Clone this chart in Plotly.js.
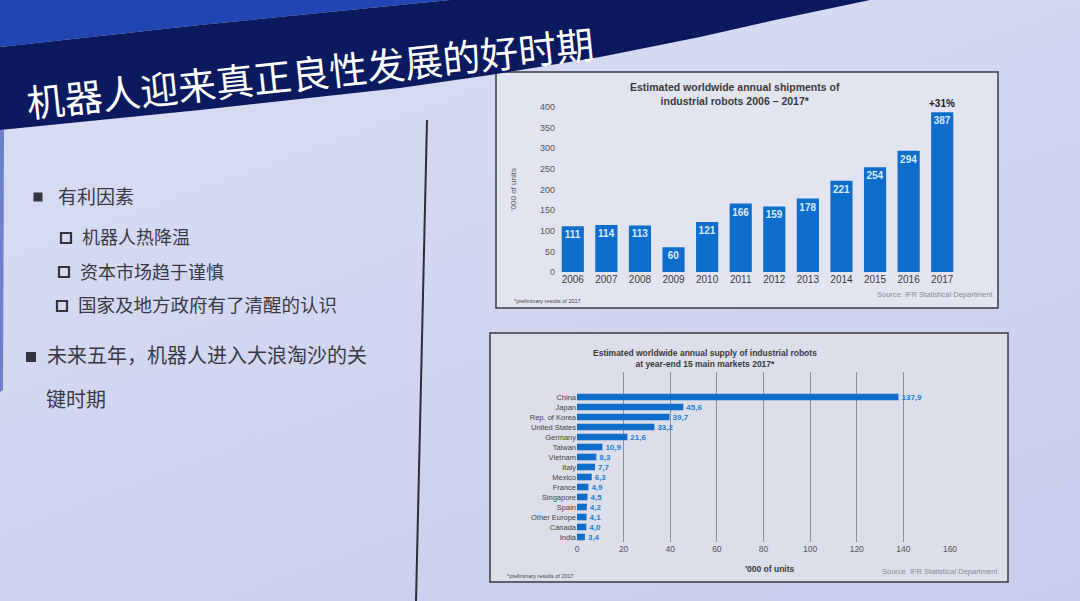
<!DOCTYPE html>
<html>
<head>
<meta charset="utf-8">
<script src="https://cdn.plot.ly/plotly-3.0.1.min.js"></script>
<style>
  html, body { margin: 0; padding: 0; }
  body {
    width: 1080px; height: 601px; overflow: hidden;
    background: linear-gradient(160deg, #dadef3 0%, #d2d6f0 45%, #c7cded 100%);
  }
  #slide { width: 1080px; height: 601px; }
</style>
</head>
<body>
<div id="slide"></div>
<script>
// ── data ────────────────────────────────────────────────
const years = ['2006', '2007', '2008', '2009', '2010', '2011', '2012', '2013', '2014', '2015', '2016', '2017'];
const shipments = [111, 114, 113, 60, 121, 166, 159, 178, 221, 254, 294, 387];
const growthLabel = '+31%';

const markets = ['China', 'Japan', 'Rep. of Korea', 'United States', 'Germany', 'Taiwan', 'Vietnam',
    'Italy', 'Mexico', 'France', 'Singapore', 'Spain', 'Other Europe', 'Canada', 'India'];
const supply = [137.9, 45.6, 39.7, 33.2, 21.6, 10.9, 8.3, 7.7, 6.3, 4.9, 4.5, 4.2, 4.1, 4.0, 3.4];

const slideTitle = '机器人迎来真正良性发展的好时期';
const bullets = ['有利因素', '机器人热降温', '资本市场趋于谨慎', '国家及地方政府有了清醒的认识',
    '未来五年，机器人进入大浪淘沙的关', '键时期'];

// ── helpers (pixel -> paper) ────────────────────────────
const W = 1080, H = 601;
const px = x => x / W;
const py = y => 1 - y / H;
const path = pts => 'M' + pts.map(p => px(p[0]).toFixed(4) + ',' + py(p[1]).toFixed(4)).join(' L') + ' Z';

const ARIAL = 'Liberation Sans, Arial, sans-serif';
const CJK = 'Noto Sans CJK SC, sans-serif';
const BLUE = '#0f6dcc';

// ── traces ──────────────────────────────────────────────
const barShip = {
    type: 'bar',
    x: years,
    y: shipments,
    xaxis: 'x', yaxis: 'y',
    marker: { color: BLUE },
    text: shipments.map(String),
    textposition: 'inside',
    insidetextanchor: 'end',
    textangle: 0,
    constraintext: 'none',
    textfont: { family: ARIAL, size: 10, color: '#d8ecff', weight: 'bold' },
    hoverinfo: 'skip',
};

const barSupply = {
    type: 'bar',
    orientation: 'h',
    x: supply,
    y: markets,
    xaxis: 'x2', yaxis: 'y2',
    marker: { color: BLUE },
    text: supply.map(v => v.toFixed(1).replace('.', ',')),
    textposition: 'outside',
    textangle: 0,
    constraintext: 'none',
    cliponaxis: false,
    textfont: { family: ARIAL, size: 8, color: '#1b7fd6', weight: 'bold' },
    hoverinfo: 'skip',
};

// ── slide decoration ───────────────────────────────────
const shapes = [
    // chart boxes
    { type: 'rect', xref: 'paper', yref: 'paper', layer: 'below',
      x0: px(496), x1: px(998), y0: py(308), y1: py(72),
      fillcolor: '#e2e4ef', line: { color: '#3a3a44', width: 1.5 } },
    { type: 'rect', xref: 'paper', yref: 'paper', layer: 'below',
      x0: px(490), x1: px(1008), y0: py(582), y1: py(333),
      fillcolor: '#dcdee9', line: { color: '#3a3a44', width: 1.5 } },
    // header: bright blue corner + navy band
    { type: 'path', xref: 'paper', yref: 'paper', layer: 'above',
      path: path([[0, 0], [450, 0], [400, 5], [200, 25], [0, 47]]),
      fillcolor: '#2146b3', line: { width: 0 } },
    { type: 'path', xref: 'paper', yref: 'paper', layer: 'above',
      path: path([[0, 47], [200, 25], [400, 5], [450, 0], [870, 0], [775, 20], [700, 37],
                  [600, 57], [490, 75], [400, 88], [200, 110], [0, 130]]),
      fillcolor: '#0b1a5e', line: { width: 0 } },
    // left slide edge
    { type: 'path', xref: 'paper', yref: 'paper', layer: 'below',
      path: path([[0, 130], [4, 130], [3, 390], [0, 392]]),
      fillcolor: '#6f7fca', line: { width: 0 } },
    // divider
    { type: 'line', xref: 'paper', yref: 'paper',
      x0: px(427), y0: py(120), x1: px(416), y1: py(601),
      line: { color: '#2f2f38', width: 2 } },
];

// bullet squares
[[38, 197, 9, true], [66, 238, 10, false], [64, 272, 10, false], [62, 306, 10, false], [31, 357, 10, true]]
    .forEach(([cx, cy, s, filled]) => {
        shapes.push({
            type: 'rect', xref: 'paper', yref: 'paper',
            x0: px(cx - s / 2), x1: px(cx + s / 2), y0: py(cy + s / 2), y1: py(cy - s / 2),
            fillcolor: filled ? '#35353f' : 'rgba(0,0,0,0)',
            line: { color: '#35353f', width: filled ? 0 : 2.2 },
        });
    });

const note = (text, x, y, opts = {}) => Object.assign({
    text, xref: 'paper', yref: 'paper', x: px(x), y: py(y),
    showarrow: false, xanchor: 'left', yanchor: 'middle',
    font: { family: ARIAL, size: 8, color: '#444' },
}, opts);

const bulletPos = [[56, 196, 19], [80, 236, 18], [78, 271, 18], [76, 304, 18.5], [45, 354, 20], [44, 398, 20]];

const annotations = [
    note(slideTitle, 310, 71, { xanchor: 'center', textangle: -6,
        font: { family: CJK, size: 38, color: '#ffffff' } }),
    ...bullets.map((b, i) => note(b, bulletPos[i][0], bulletPos[i][1],
        { font: { family: CJK, size: bulletPos[i][2], color: '#3a3a46' } })),

    // top chart
    note('<b>Estimated worldwide annual shipments of<br>industrial robots 2006 – 2017*</b>', 735, 94,
        { xanchor: 'center', font: { family: ARIAL, size: 10.5, color: '#3a3a3a' } }),
    // growth label sits on the last bar (category index)
    { text: '<b>' + growthLabel + '</b>', xref: 'x', yref: 'y', x: years.length - 1,
      y: shipments[shipments.length - 1], yanchor: 'bottom', showarrow: false, yshift: 1,
      font: { family: ARIAL, size: 10, color: '#222' } },
    note('Source: IFR Statistical Department', 995, 294,
        { xanchor: 'right', font: { family: ARIAL, size: 7.5, color: '#8a8c98' } }),
    note('*preliminary results of 2017', 512, 301,
        { font: { family: ARIAL, size: 5.5, color: '#444' } }),

    // bottom chart
    note('<b>Estimated worldwide annual supply of industrial robots<br>at year-end 15 main markets 2017*</b>', 705, 358,
        { xanchor: 'center', font: { family: ARIAL, size: 8.5, color: '#3a3a3a' } }),
    note('<b>\'000 of units</b>', 770, 569,
        { xanchor: 'center', font: { family: ARIAL, size: 8.5, color: '#3a3a3a' } }),
    note('Source  IFR Statistical Department', 1000, 571,
        { xanchor: 'right', font: { family: ARIAL, size: 7.5, color: '#8a8c98' } }),
    note('*preliminary results of 2017', 505, 576,
        { font: { family: ARIAL, size: 5.5, color: '#444' } }),
];

// ── layout ──────────────────────────────────────────────
const layout = {
    width: W, height: H,
    margin: { t: 0, r: 0, b: 0, l: 0 },
    paper_bgcolor: 'rgba(0,0,0,0)',
    plot_bgcolor: 'rgba(0,0,0,0)',
    showlegend: false,
    font: { family: ARIAL },
    bargap: 0.34,
    xaxis: {
        domain: [px(556), px(959)],
        anchor: 'y',
        type: 'category',
        range: [-0.5, years.length - 0.5],
        showgrid: false, showline: false, zeroline: false, ticks: '',
        tickfont: { family: ARIAL, size: 10, color: '#3a3a3a' },
    },
    yaxis: {
        domain: [py(272), py(107)],
        anchor: 'x',
        range: [0, 400],
        dtick: 50,
        showgrid: false, showline: false, zeroline: false, ticks: '',
        tickfont: { family: ARIAL, size: 9, color: '#555' },
        title: { text: '\'000 of units', font: { family: ARIAL, size: 8, color: '#555' }, standoff: 22 },
    },
    xaxis2: {
        domain: [px(577), px(950)],
        anchor: 'y2',
        range: [0, 160],
        dtick: 20,
        showgrid: true, gridcolor: '#8e909c', gridwidth: 1,
        showline: false, zeroline: false, ticks: '',
        tickfont: { family: ARIAL, size: 8.5, color: '#555' },
    },
    yaxis2: {
        domain: [py(542), py(372)],
        anchor: 'x2',
        type: 'category',
        range: [14.5, -2.5],
        showgrid: false, showline: false, zeroline: false, ticks: '',
        tickfont: { family: ARIAL, size: 7.5, color: '#444' },
    },
    shapes,
    annotations,
};

Plotly.newPlot('slide', [barShip, barSupply], layout, { staticPlot: true, displayModeBar: false });
</script>
</body>
</html>
